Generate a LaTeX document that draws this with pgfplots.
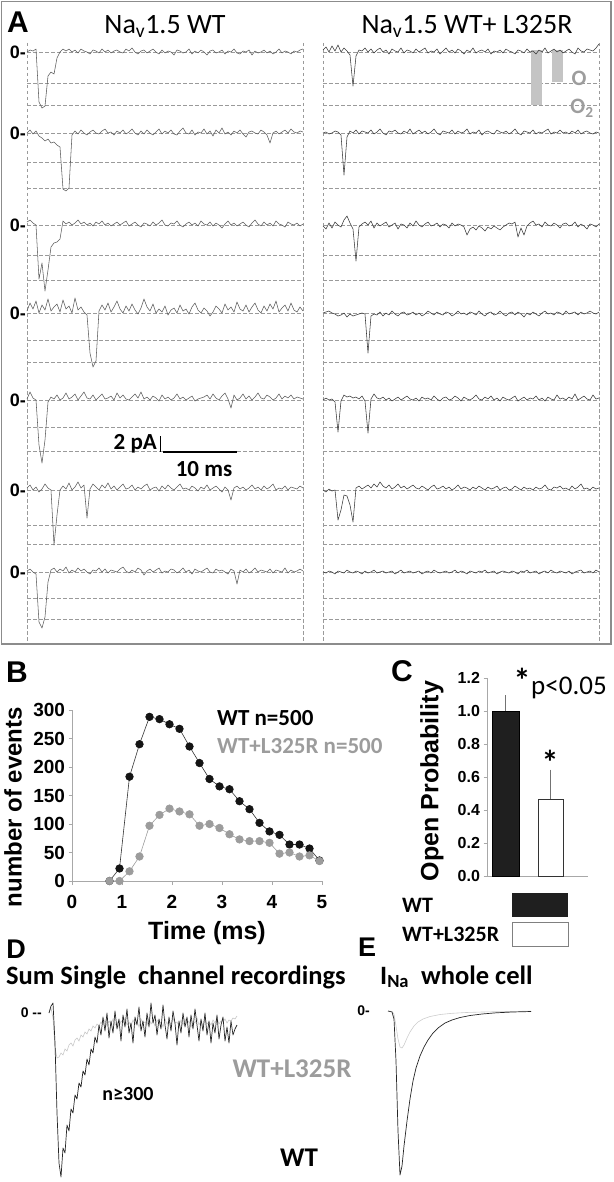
\documentclass[border=0pt]{standalone}
\usepackage{pgfplots}
\pgfplotsset{compat=1.18}
\usepackage{fontspec}
\setmainfont{Carlito}
\newfontfamily\arial{Liberation Sans}
\newcommand\fA[1]{\arial\bfseries\fontsize{#1}{#1}\selectfont}
\newcommand\fC[1]{\fontsize{#1}{#1}\selectfont}
\definecolor{dashc}{HTML}{9A9A9A}
\definecolor{trl}{HTML}{5C5C5C}
\definecolor{trr}{HTML}{383838}
\definecolor{axc}{HTML}{A8A8A8}
\definecolor{dotg}{HTML}{9C9C9C}
\definecolor{legg}{HTML}{C4C4C4}
\definecolor{frame}{HTML}{8C8C8C}
\newcommand\trace[4]{\addplot[#1, line width=0.55pt, line join=round] table[header=false,row sep=\\,x expr=#2+3*\coordindex,y expr=#3+\thisrowno{0}]{#4};}
\begin{document}
\begin{tikzpicture}
\path[use as bounding box] (0pt,0pt) rectangle (613pt,-1182pt);
\begin{scope}[x=1pt,y=-1pt]
\draw[frame, line width=1.3pt] (1.5,1.5) rectangle (611,644);
\foreach \yy in {52,83,105,133,162,188,225,255,280,313,340,362,400,427,451,490,525,544,572,598,619}{
  \draw[dashc, line width=0.7pt, dash pattern=on 3.5pt off 2.5pt] (27,\yy) -- (303,\yy);
  \draw[dashc, line width=0.7pt, dash pattern=on 3.5pt off 2.5pt] (323,\yy) -- (600,\yy);
}
\foreach \xx in {27,303,323,599}{
  \draw[dashc, line width=0.7pt, dash pattern=on 3.5pt off 2.5pt] (\xx,43) -- (\xx,643);
}
\node[anchor=base, font=\fA{30}, inner sep=0] at (18,33) {A};
\node[anchor=base, font=\fC{28}, inner sep=0] at (165,34) {Na\textsubscript{v}1.5 WT};
\node[anchor=base, font=\fC{28}, inner sep=0] at (467,34) {Na\textsubscript{v}1.5 WT+ L325R};
\foreach \yy in {52,133,225,313,400,490,572}{
  \node[anchor=east, font=\fA{18}, inner sep=0] at (26,\yy) {0-};
}
\fill[legg] (531,50) rectangle (542,105);
\fill[legg] (552,50) rectangle (563,82);
\node[anchor=base, font=\bfseries\fC{22}, text=legg!80!black, inner sep=0] at (579,86) {O};
\node[anchor=base, font=\bfseries\fC{22}, text=legg!80!black, inner sep=0] at (582,114) {O\textsubscript{2}};
\node[anchor=base east, font=\bfseries\fC{23}, inner sep=0] at (157,449) {2 pA};
\draw[line width=1.3pt] (160.5,436) -- (160.5,452);
\draw[line width=2pt] (163,452) -- (237,452);
\node[anchor=base, font=\bfseries\fC{23}, inner sep=0] at (204,476) {10 ms};
% B, C labels
\node[anchor=base, font=\fA{30}, inner sep=0] at (17,682) {B};
\node[anchor=base, font=\fA{30}, inner sep=0] at (402,681) {C};
\node[anchor=base west, font=\bfseries\fC{23}, inner sep=0] at (217,725) {WT n=500};
\node[anchor=base west, font=\bfseries\fC{23}, text=dotg, inner sep=0] at (217,753) {WT+L325R n=500};
\node[rotate=90, font=\fA{24}, inner sep=0] at (13,807) {number of events};
\node[anchor=base, font=\fA{25}, inner sep=0] at (207,939) {Time (ms)};
\node[rotate=90, font=\fA{25}, inner sep=0] at (432,781) {Open Probability};
\node[font=\bfseries\fC{34}, inner sep=0] at (522,680) {*};
\node[anchor=base west, font=\fC{27}, inner sep=0] at (531,694) {p<0.05};
\node[font=\bfseries\fC{34}, inner sep=0] at (550,762) {*};
\fill[black!88] (512,893) rectangle (568,917);
\draw[gray, line width=0.6pt, fill=white] (512,922) rectangle (568,946);
\node[anchor=base west, font=\bfseries\fC{22}, inner sep=0] at (402,912) {WT};
\node[anchor=base west, font=\bfseries\fC{22}, inner sep=0] at (402,941) {WT+L325R};
% D, E labels
\node[anchor=base, font=\fA{27}, inner sep=0] at (16,958) {D};
\node[anchor=base, font=\fA{27}, inner sep=0] at (367,956) {E};
\node[anchor=base west, font=\bfseries\fC{26.5}, inner sep=0] at (6,984) {Sum Single\ \ channel recordings};
\node[anchor=base west, font=\bfseries\fC{26.5}, inner sep=0] at (380,984) {I\textsubscript{Na}\ \ whole cell};
\node[anchor=east, font=\fA{14}, inner sep=0] at (42,1013) {0 --};
\node[anchor=east, font=\fA{14}, inner sep=0] at (370,1011) {0-};
\node[anchor=base, font=\bfseries\fC{27}, text=dotg, inner sep=0] at (292,1077) {WT+L325R};
\node[anchor=base, font=\bfseries\fC{20}, inner sep=0] at (128,1100) {n≥300};
\node[anchor=base, font=\bfseries\fC{27}, inner sep=0] at (299,1166) {WT};
\end{scope}

% ---------- Panel A traces ----------
\begin{axis}[at={(0pt,0pt)}, anchor=north west, scale only axis, width=613pt, height=645pt,
  xmin=0, xmax=613, ymin=0, ymax=645, y dir=reverse, hide axis, clip=false]
\trace{trl}{27}{52}{0\\ -2\\ -1\\ -3\\ 50\\ 56\\ 54\\ 24\\ 20\\ 22\\ 6\\ 0\\ -3\\ -1\\ -3\\ 0\\ -2\\ 1\\ -3\\ -1\\ 0\\ 2\\ -2\\ -1\\ 1\\ -3\\ 0\\ -2\\ 1\\ -1\\ -2\\ 0\\ 1\\ -3\\ -1\\ -4\\ 0\\ 2\\ -1\\ -2\\ 1\\ -1\\ -3\\ 0\\ 2\\ -2\\ 1\\ -1\\ 0\\ 3\\ -2\\ -1\\ 1\\ 0\\ -3\\ 2\\ -1\\ 1\\ -2\\ 0\\ 3\\ -1\\ -2\\ 1\\ 0\\ -2\\ 2\\ -1\\ 0\\ -3\\ 1\\ 2\\ -1\\ 0\\ -2\\ 3\\ -1\\ 1\\ 0\\ -2\\ 1\\ -1\\ 2\\ 0\\ -3\\ 1\\ -1\\ 0\\ 2\\ -1\\ 0\\ -2\\ -3\\}
\trace{trl}{27}{133}{0\\ -3\\ 1\\ -2\\ 3\\ 5\\ 8\\ 6\\ 10\\ 9\\ 12\\ 14\\ 56\\ 58\\ 55\\ 2\\ -2\\ 1\\ -3\\ 0\\ 2\\ -1\\ -3\\ 0\\ 1\\ -2\\ -4\\ 0\\ -1\\ 2\\ -2\\ 0\\ -3\\ 1\\ -1\\ -4\\ 0\\ 2\\ -2\\ 1\\ -3\\ 0\\ 2\\ -1\\ -4\\ 1\\ -2\\ 0\\ -3\\ 1\\ 2\\ -2\\ -5\\ 0\\ 1\\ -3\\ 2\\ -1\\ 0\\ -4\\ 1\\ -2\\ 3\\ -3\\ 0\\ -5\\ 1\\ -1\\ 2\\ -2\\ 0\\ -3\\ 1\\ 4\\ -1\\ -2\\ 0\\ 1\\ -3\\ -1\\ 2\\ 10\\ 0\\ -2\\ 1\\ -1\\ -3\\ 0\\ -4\\ -1\\ 0\\ -2\\ -1\\}
\trace{trl}{27}{225}{-3\\ -5\\ -2\\ 0\\ 54\\ 38\\ 66\\ 45\\ 22\\ 18\\ 17\\ 14\\ -4\\ -1\\ -3\\ 0\\ -2\\ -5\\ -1\\ -3\\ 0\\ -2\\ 1\\ -3\\ -1\\ -4\\ 0\\ -2\\ 1\\ -1\\ -3\\ 0\\ -2\\ -4\\ 1\\ -1\\ -3\\ 0\\ 2\\ -2\\ -1\\ 1\\ -3\\ 0\\ -2\\ -5\\ 0\\ 1\\ -2\\ -1\\ -4\\ 0\\ 2\\ -1\\ -3\\ 0\\ -2\\ 1\\ -4\\ -1\\ 0\\ -3\\ 1\\ -2\\ 0\\ 3\\ -1\\ -4\\ 0\\ -2\\ 1\\ -1\\ -3\\ 0\\ 2\\ -2\\ -5\\ -1\\ 1\\ -3\\ 0\\ -2\\ 1\\ -4\\ -1\\ 0\\ 2\\ -3\\ -1\\ 0\\ -2\\ 1\\ -1\\}
\trace{trl}{27}{313}{-2\\ -10\\ -4\\ -12\\ 0\\ -8\\ -3\\ -14\\ -2\\ -6\\ -9\\ -1\\ -13\\ -4\\ -7\\ 0\\ -15\\ -3\\ -6\\ -1\\ 2\\ 40\\ 54\\ 48\\ -2\\ -8\\ -3\\ -10\\ -1\\ -6\\ -12\\ -4\\ 0\\ -7\\ -2\\ -9\\ -3\\ 1\\ -5\\ -14\\ -6\\ -2\\ -9\\ 0\\ -4\\ -1\\ -7\\ 2\\ -3\\ -5\\ 0\\ -8\\ -2\\ -4\\ 1\\ -6\\ -10\\ -3\\ 0\\ -5\\ -2\\ 3\\ -1\\ -7\\ -4\\ 0\\ -9\\ -3\\ -6\\ -1\\ -11\\ -4\\ -2\\ -8\\ -1\\ -6\\ -10\\ -3\\ 0\\ -7\\ -2\\ -9\\ -4\\ -12\\ -1\\ -5\\ -8\\ -2\\ -10\\ -3\\ -1\\ -6\\ -2\\}
\trace{trl}{27}{400}{-1\\ -8\\ -2\\ 0\\ 45\\ 63\\ 40\\ 2\\ -3\\ -1\\ -5\\ 0\\ -2\\ -7\\ -1\\ -3\\ -6\\ 0\\ -4\\ -8\\ -2\\ -1\\ -5\\ 0\\ -3\\ -6\\ -1\\ -2\\ -4\\ 0\\ -7\\ -2\\ -5\\ -1\\ 0\\ -3\\ -6\\ -2\\ -8\\ -1\\ -3\\ 0\\ -4\\ -2\\ 1\\ -5\\ -1\\ -3\\ 0\\ -2\\ -6\\ -1\\ -3\\ 0\\ -2\\ -4\\ 1\\ -1\\ -2\\ -3\\ -5\\ -1\\ -6\\ -2\\ 0\\ -4\\ -7\\ -1\\ 8\\ -5\\ 0\\ -2\\ -6\\ -1\\ -4\\ 0\\ -3\\ -7\\ -2\\ -1\\ -5\\ -3\\ 0\\ -2\\ -6\\ -1\\ -4\\ -2\\ -5\\ -1\\ -3\\ -2\\ -1\\}
\trace{trl}{27}{490}{-2\\ -5\\ 0\\ -3\\ 2\\ -1\\ -6\\ -2\\ 0\\ 55\\ 25\\ 0\\ -4\\ -1\\ -7\\ 0\\ -3\\ -8\\ -2\\ -5\\ 28\\ -1\\ -6\\ -3\\ 0\\ -5\\ -2\\ -7\\ -1\\ -4\\ 0\\ -3\\ -6\\ -1\\ -2\\ -5\\ 0\\ -3\\ -1\\ -4\\ -6\\ 0\\ -2\\ -3\\ 1\\ -4\\ -1\\ -5\\ -2\\ 0\\ -3\\ -6\\ -1\\ -2\\ 0\\ -4\\ -2\\ 1\\ -3\\ -1\\ -5\\ 0\\ -2\\ -4\\ -1\\ 2\\ -3\\ 0\\ 10\\ -2\\ -4\\ -1\\ -3\\ 0\\ -2\\ -5\\ -1\\ -3\\ 0\\ -4\\ -1\\ -3\\ -6\\ 0\\ -2\\ -1\\ -4\\ 0\\ -3\\ -2\\ -1\\ -4\\ -2\\}
\trace{trl}{27}{572}{-1\\ -3\\ 0\\ 2\\ 50\\ 56\\ 45\\ 10\\ -2\\ -4\\ 0\\ -3\\ -1\\ -5\\ 1\\ -2\\ 0\\ -4\\ -1\\ -3\\ 0\\ 2\\ -2\\ -1\\ -4\\ 0\\ -3\\ 1\\ -2\\ -1\\ 0\\ -3\\ -5\\ -1\\ 1\\ -2\\ 0\\ -4\\ -2\\ 3\\ -1\\ -3\\ 0\\ -2\\ -4\\ 1\\ -1\\ 0\\ -3\\ -2\\ 1\\ -1\\ -4\\ 0\\ -2\\ 2\\ -3\\ -1\\ 0\\ -2\\ -4\\ 0\\ 1\\ -3\\ -1\\ -2\\ 0\\ 2\\ -3\\ -1\\ 12\\ -2\\ 0\\ -3\\ 1\\ -1\\ -4\\ 0\\ -2\\ -1\\ 0\\ -3\\ 1\\ -2\\ -1\\ 0\\ -4\\ 1\\ -2\\ 0\\ -1\\ -3\\ -1\\}
\trace{trr}{323}{52}{-2\\ -5\\ 0\\ -6\\ -1\\ -7\\ 0\\ -4\\ -1\\ 3\\ 34\\ 4\\ -2\\ -1\\ -4\\ 0\\ -3\\ 1\\ -2\\ -4\\ 0\\ -2\\ 2\\ -3\\ -1\\ 0\\ -4\\ 1\\ -2\\ -1\\ 1\\ -3\\ 0\\ -2\\ -4\\ 1\\ -1\\ 0\\ -3\\ 2\\ -1\\ -4\\ 0\\ -2\\ 1\\ -3\\ -1\\ 2\\ -2\\ 0\\ -4\\ 1\\ -1\\ -2\\ 0\\ -3\\ 2\\ -1\\ 0\\ -2\\ 1\\ -3\\ -1\\ 0\\ 2\\ -2\\ -1\\ 1\\ -3\\ 0\\ -1\\ 2\\ -2\\ 0\\ -4\\ 1\\ -1\\ -3\\ 0\\ -2\\ 1\\ -1\\ -3\\ 0\\ 2\\ -4\\ -1\\ 0\\ -3\\ -2\\ -1\\ -4\\ -8\\}
\trace{trr}{323}{133}{0\\ -1\\ 1\\ 0\\ -2\\ -1\\ 2\\ 42\\ 4\\ -2\\ 0\\ -3\\ 1\\ -2\\ -1\\ 0\\ -3\\ 1\\ -1\\ -4\\ 0\\ 2\\ -2\\ -1\\ -3\\ 0\\ 1\\ -2\\ 0\\ -4\\ 1\\ -1\\ -3\\ 0\\ -2\\ 1\\ -1\\ -4\\ 0\\ 2\\ -2\\ -1\\ 0\\ -3\\ 1\\ -2\\ 0\\ -1\\ -4\\ 1\\ -1\\ 0\\ -3\\ 2\\ -1\\ -2\\ 0\\ 1\\ -3\\ -1\\ 0\\ -2\\ 1\\ -1\\ -4\\ 0\\ 2\\ -2\\ -1\\ 0\\ -3\\ 1\\ -1\\ 0\\ -2\\ -4\\ 1\\ -1\\ 0\\ -3\\ 0\\ -1\\ 1\\ -2\\ 0\\ -3\\ 1\\ -1\\ -2\\ 0\\ 1\\ -1\\ 0\\}
\trace{trr}{323}{225}{1\\ 4\\ -2\\ 3\\ -3\\ 0\\ 2\\ -5\\ -9\\ -2\\ 4\\ 36\\ 2\\ -1\\ -3\\ 0\\ -4\\ 3\\ -2\\ 1\\ -1\\ -3\\ 2\\ 0\\ -2\\ 4\\ -1\\ 0\\ 3\\ -2\\ 1\\ -4\\ 0\\ 2\\ -1\\ -3\\ 1\\ 0\\ -2\\ 2\\ -1\\ 0\\ 3\\ -2\\ 1\\ -1\\ 0\\ 2\\ 10\\ 4\\ 2\\ 5\\ 1\\ 3\\ 6\\ 2\\ 4\\ 1\\ 3\\ 5\\ 2\\ 0\\ -2\\ -1\\ -3\\ 12\\ 3\\ 10\\ 1\\ -2\\ -4\\ 0\\ -1\\ 2\\ -3\\ 0\\ 1\\ -2\\ 0\\ 3\\ -1\\ -2\\ 1\\ 0\\ -3\\ 2\\ -1\\ 1\\ 4\\ -1\\ 0\\ 2\\ -1\\}
\trace{trr}{323}{313}{0\\ -1\\ -2\\ 0\\ 1\\ 3\\ 2\\ 0\\ 4\\ 1\\ 3\\ 2\\ 1\\ 0\\ 1\\ 40\\ 3\\ 1\\ 2\\ -1\\ 3\\ 0\\ 2\\ -2\\ 1\\ 3\\ 0\\ -1\\ 2\\ 1\\ -1\\ 2\\ 0\\ 3\\ 1\\ -2\\ 0\\ 2\\ -1\\ 1\\ 2\\ -1\\ 0\\ 3\\ 1\\ -2\\ 1\\ 0\\ 2\\ -1\\ 0\\ 2\\ -2\\ 1\\ 3\\ 0\\ -1\\ 2\\ 1\\ -2\\ 1\\ 3\\ 0\\ -1\\ 2\\ -1\\ 1\\ 4\\ 0\\ 2\\ -1\\ 1\\ 3\\ 0\\ -2\\ 1\\ 0\\ 2\\ -1\\ 0\\ 2\\ -2\\ 1\\ 0\\ -1\\ 2\\ -1\\ 1\\ 0\\ -2\\ 0\\ 1\\ -1\\}
\trace{trr}{323}{400}{0\\ -2\\ 0\\ -1\\ 2\\ 32\\ 1\\ -5\\ -3\\ -4\\ -2\\ -3\\ -1\\ -4\\ 1\\ 33\\ -1\\ -6\\ -2\\ -1\\ -3\\ 0\\ -2\\ 1\\ -1\\ -3\\ 0\\ -2\\ -4\\ -1\\ 0\\ -2\\ 1\\ -3\\ -1\\ -2\\ 0\\ -4\\ -1\\ 1\\ -2\\ -3\\ 0\\ -1\\ -4\\ -2\\ 1\\ -3\\ -1\\ 0\\ -2\\ -5\\ -1\\ 0\\ -3\\ -1\\ -4\\ 0\\ -2\\ 1\\ -3\\ -1\\ 0\\ -2\\ -4\\ 1\\ -1\\ -3\\ 0\\ -2\\ -1\\ -4\\ 0\\ -2\\ 1\\ -3\\ -1\\ 0\\ -5\\ -1\\ -2\\ 0\\ -3\\ -1\\ -6\\ 0\\ -2\\ -4\\ -1\\ 0\\ -5\\ -1\\ -2\\}
\trace{trr}{323}{490}{0\\ 2\\ -1\\ 1\\ 0\\ 30\\ 20\\ 5\\ 6\\ 15\\ 32\\ -2\\ -4\\ -1\\ -3\\ -5\\ -2\\ -6\\ -3\\ -8\\ -4\\ -2\\ -5\\ -1\\ -3\\ -6\\ -2\\ -4\\ -1\\ -3\\ -5\\ -2\\ -1\\ -4\\ -2\\ 0\\ -3\\ -5\\ -1\\ -2\\ -4\\ -1\\ -3\\ 0\\ -2\\ -5\\ -1\\ -3\\ -2\\ 0\\ -3\\ -1\\ -4\\ -2\\ 0\\ -3\\ -1\\ -2\\ -4\\ 0\\ -2\\ -3\\ 0\\ -1\\ -4\\ -2\\ 0\\ -3\\ -1\\ -2\\ 0\\ -3\\ -1\\ -2\\ -5\\ -1\\ 0\\ -3\\ -2\\ -4\\ -1\\ -2\\ 0\\ -4\\ -1\\ -3\\ -6\\ -1\\ -2\\ 0\\ -3\\ -1\\ -2\\}
\trace{trr}{323}{572}{0\\ 1\\ -1\\ 0\\ 2\\ -1\\ 0\\ 1\\ -2\\ 0\\ 1\\ -1\\ 0\\ 2\\ -1\\ 1\\ 0\\ -2\\ 1\\ 0\\ -1\\ 1\\ 0\\ -1\\ 2\\ 0\\ -2\\ 1\\ 0\\ -1\\ 1\\ 0\\ -1\\ 2\\ 0\\ -1\\ 1\\ -2\\ 0\\ 1\\ 0\\ -1\\ 1\\ 0\\ -2\\ 1\\ -1\\ 0\\ 2\\ -1\\ 0\\ 1\\ -1\\ 0\\ -2\\ 1\\ 0\\ -1\\ 2\\ 0\\ -1\\ 0\\ 1\\ -1\\ 0\\ 2\\ -1\\ 0\\ -2\\ 1\\ 0\\ -1\\ 2\\ 0\\ -1\\ 1\\ -2\\ 0\\ 1\\ -1\\ 0\\ 1\\ -1\\ 2\\ 0\\ -1\\ -2\\ 1\\ 0\\ -1\\ 1\\ -2\\ 0\\}
\end{axis}

% ---------- Panel B ----------
\begin{axis}[at={(72pt,-881pt)}, anchor=south west, scale only axis,
  width=250pt, height=171pt, xmin=0, xmax=5, ymin=0, ymax=300,
  axis x line*=bottom, axis y line*=left,
  axis line style={axc, line width=0.9pt},
  xtick={0,1,2,3,4,5}, ytick={0,50,100,150,200,250,300},
  tick align=outside, major tick length=3.5pt, tick style={axc, line width=0.8pt},
  ticklabel style={font=\fA{19}}, /pgf/number format/assume math mode=true,
  xticklabel style={yshift=-7pt}, clip=false]
\addplot[black!80, line width=0.6pt, mark=*, mark size=3.8pt, mark options={fill=black!92, draw=black!92}]
 coordinates {(0.75,0) (0.95,22) (1.15,183) (1.35,240) (1.55,288) (1.75,284) (1.95,275) (2.15,267) (2.35,236) (2.55,207) (2.75,179) (2.95,166) (3.15,161) (3.35,140) (3.55,126) (3.75,102) (3.95,87) (4.15,81) (4.35,64) (4.55,64) (4.75,57) (4.95,36)};
\addplot[dotg, line width=0.6pt, mark=*, mark size=3.8pt, mark options={fill=dotg, draw=dotg}]
 coordinates {(0.75,0) (0.95,0) (1.15,17) (1.35,43) (1.55,97) (1.75,116) (1.95,127) (2.15,122) (2.35,117) (2.55,97) (2.75,100) (2.95,93) (3.15,82) (3.35,73) (3.55,70) (3.75,70) (3.95,67) (4.15,48) (4.35,50) (4.55,43) (4.75,45) (4.95,35)};
\end{axis}

% ---------- Panel C ----------
\begin{axis}[at={(487pt,-876pt)}, anchor=south west, scale only axis,
  width=101pt, height=198pt, xmin=0, xmax=101, ymin=0, ymax=1.2,
  axis x line*=bottom, axis y line*=left,
  axis line style={axc, line width=0.9pt},
  xtick=\empty, ytick={0,0.2,0.4,0.6,0.8,1.0,1.2},
  tick align=outside, major tick length=3.5pt, tick style={axc, line width=0.8pt},
  yticklabel style={font=\fA{16}, /pgf/number format/.cd, fixed, fixed zerofill, precision=1, assume math mode=true},
  clip=false]
\addplot[ybar, bar width=27pt, bar shift=0pt, fill=black!88, draw=black, line width=0.5pt,
  error bars/.cd, y dir=plus, y explicit,
  error bar style={black!55, line width=0.7pt},
  error mark options={black!55, mark size=4pt, line width=0.7pt}]
  coordinates {(18.5,1.0) +- (0,0.07)};
\addplot[ybar, bar width=25pt, bar shift=0pt, fill=white, draw=black!80, line width=0.5pt,
  error bars/.cd, y dir=plus, y explicit,
  error bar style={black!55, line width=0.7pt},
  error mark options={black!55, mark size=4pt, line width=0.7pt}]
  coordinates {(63.5,0.467) +- (0,0.153)};
\end{axis}

% ---------- Panels D and E ----------
\begin{axis}[at={(0pt,-930pt)}, anchor=north west, scale only axis, width=613pt, height=252pt,
  xmin=0, xmax=613, ymin=930, ymax=1182, y dir=reverse, hide axis, clip=false]
\addplot[gray!45, line width=0.6pt] table[header=false,row sep=\\,x expr=49+2*\coordindex,y expr=1013+\thisrowno{0}]{0\\ -5\\ 5\\ 35\\ 45\\ 44\\ 40\\ 42\\ 36\\ 38\\ 32\\ 30\\ 33\\ 27\\ 25\\ 28\\ 22\\ 24\\ 19\\ 21\\ 16\\ 18\\ 13\\ 15\\ 11\\ 13\\ 9\\ 12\\ 7\\ 13\\ 8\\ 11\\ 6\\ 12\\ 9\\ 14\\ 8\\ 10\\ 5\\ 12\\ 9\\ 13\\ 7\\ 11\\ 8\\ 14\\ 6\\ 10\\ 9\\ 12\\ 5\\ 11\\ 8\\ 13\\ 7\\ 10\\ 9\\ 14\\ 6\\ 11\\ 8\\ 12\\ 5\\ 10\\ 9\\ 13\\ 7\\ 12\\ 6\\ 11\\ 8\\ 14\\ 9\\ 10\\ 5\\ 12\\ 8\\ 13\\ 6\\ 11\\ 9\\ 12\\ 7\\ 10\\ 5\\ 11\\ 8\\ 9\\ 6\\ 10\\ 7\\ 8\\ 5\\ 6\\ 3\\};
\addplot[black!85, line width=0.7pt, line join=round] table[header=false,row sep=\\,x expr=49+2*\coordindex,y expr=1013+\thisrowno{0}]{0\\ -7\\ -10\\ 30\\ 100\\ 150\\ 164\\ 135\\ 140\\ 112\\ 118\\ 96\\ 100\\ 82\\ 86\\ 70\\ 74\\ 58\\ 62\\ 46\\ 52\\ 36\\ 40\\ 24\\ 30\\ 12\\ 22\\ 4\\ 18\\ 0\\ 25\\ 8\\ 20\\ -2\\ 16\\ 6\\ 28\\ 2\\ 14\\ -4\\ 20\\ 10\\ 30\\ 4\\ 12\\ -6\\ 18\\ 8\\ 24\\ 0\\ 14\\ -10\\ 10\\ 2\\ 22\\ 6\\ 16\\ -8\\ 12\\ 26\\ 4\\ 18\\ -2\\ 10\\ 32\\ 8\\ 20\\ 0\\ 14\\ 4\\ 24\\ 2\\ 16\\ -4\\ 12\\ 28\\ 6\\ 18\\ 0\\ 22\\ 8\\ 30\\ 10\\ 20\\ 2\\ 26\\ 12\\ 4\\ 28\\ 14\\ 30\\ 8\\ 22\\ 16\\ 12\\};
\addplot[gray!40, line width=0.6pt] table[header=false,row sep=\\,x index=0,y expr=1011+\thisrowno{1}]{388 0\\ 392 0.5\\ 394 3\\ 396 15\\ 398 28\\ 400 36\\ 402 37\\ 404 34\\ 407 27\\ 410 21\\ 414 15\\ 418 11\\ 423 8\\ 430 5.5\\ 440 3.5\\ 452 2.3\\ 466 1.5\\ 482 1\\ 500 0.6\\ 520 0.3\\ 531 0.2\\};
\addplot[black!85, line width=0.7pt, line join=round] table[header=false,row sep=\\,x index=0,y expr=1011+\thisrowno{1}]{388 0\\ 392 1\\ 394 8\\ 396 50\\ 398 120\\ 400 164\\ 402 155\\ 404 135\\ 407 110\\ 410 88\\ 413 70\\ 416 57\\ 420 45\\ 424 36\\ 428 29\\ 433 22\\ 438 17\\ 445 12\\ 452 9\\ 460 6.5\\ 470 4.5\\ 482 3\\ 496 1.8\\ 512 1\\ 531 0.5\\};
\end{axis}
\end{tikzpicture}
\end{document}
